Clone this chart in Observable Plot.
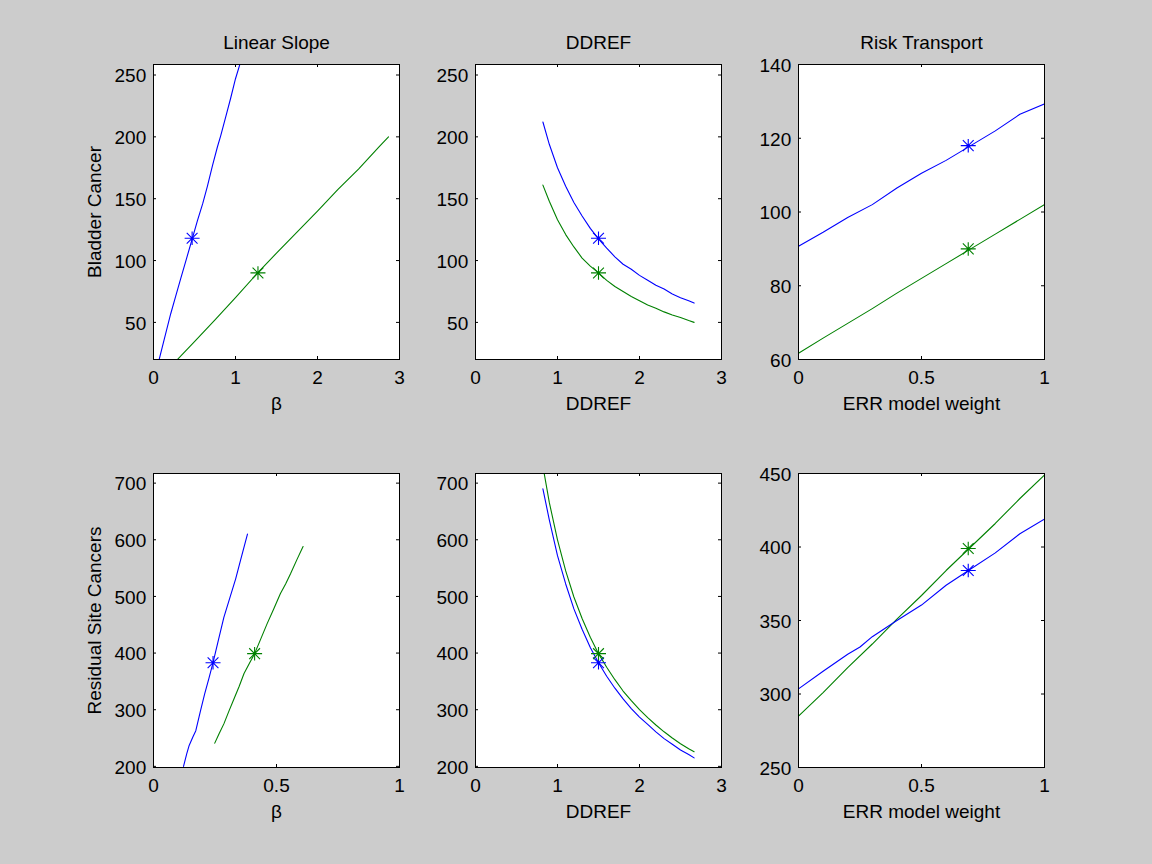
<!DOCTYPE html>
<html>
<head>
<meta charset="utf-8">
<script src="https://cdn.jsdelivr.net/npm/d3@7"></script>
<script src="https://cdn.jsdelivr.net/npm/@observablehq/plot@0.6"></script>
<style>
  html, body { margin: 0; padding: 0; background: #cccccc; }
  #fig { position: relative; width: 1152px; height: 864px; background: #cccccc; overflow: hidden; }
  #fig > div { position: absolute; }
</style>
</head>
<body>
<div id="fig"></div>
<script>
// ---- Sensitivity curves: projected cases vs. one uncertain parameter ----
// Each curve is a list of [parameter value, projected cases].

// Bladder cancer
const bladderSlopeBlue = [[0.069,20],[0.13,36],[0.21,57],[0.27,71],[0.33,85],[0.40,101],[0.47,117],[0.535,132],[0.60,146],[0.657,160],[0.72,177],[0.78,192],[0.82,201],[0.88,216],[0.94,231],[1.00,247],[1.055,259]];
const bladderSlopeGreen = [[0.292,20],[0.5,34.5],[0.75,52],[1.0,70],[1.27,90],[1.5,106],[1.75,123],[2.0,140],[2.25,157.5],[2.5,174],[2.75,192],[2.866,200]];
const bladderDdrefBlue = [[0.822,212],[0.9,194],[1.0,175],[1.1,160],[1.2,147],[1.3,136],[1.4,126],[1.5,117.5],[1.6,110],[1.7,103],[1.8,97],[1.9,93],[2.0,88],[2.1,84],[2.2,80],[2.3,77],[2.4,73],[2.5,70],[2.6,67.5],[2.666,65.6]];
const bladderDdrefGreen = [[0.822,161],[0.9,148],[1.0,133],[1.1,121],[1.2,111],[1.3,102],[1.4,95.5],[1.5,90],[1.6,84],[1.7,79],[1.8,75],[1.9,71],[2.0,67.5],[2.1,64],[2.2,61.5],[2.3,58.5],[2.4,56],[2.5,54],[2.6,51.5],[2.666,50]];
const bladderRiskBlue = [[0,90.7],[0.1,94.5],[0.2,98.5],[0.3,102],[0.4,106.5],[0.5,110.5],[0.6,114],[0.7,118],[0.8,122],[0.9,126.5],[1.0,129.3]];
const bladderRiskGreen = [[0,61.7],[0.1,65.8],[0.2,69.8],[0.3,73.8],[0.4,78],[0.5,82],[0.6,86],[0.7,90],[0.8,94],[0.9,98],[1.0,102]];
// central estimates [parameter, cases] for blue / green
const bladderSlopeCentral = [[0.471,118],[1.274,90]];
const bladderDdrefCentral = [[1.5,118],[1.5,90]];
const bladderRiskCentral = [[0.69,118],[0.69,90]];

// Residual site cancers
const residualSlopeBlue = [[0.122,200],[0.135,222],[0.145,237],[0.16,252],[0.172,263],[0.19,296],[0.208,328],[0.225,355],[0.242,383],[0.265,425],[0.286,463],[0.31,497],[0.334,531],[0.355,566],[0.382,610]];
const residualSlopeGreen = [[0.249,241],[0.267,258],[0.286,275],[0.307,298],[0.327,319],[0.348,341],[0.368,364],[0.39,382],[0.411,399],[0.437,426],[0.462,452],[0.49,479],[0.516,505],[0.537,522],[0.557,540],[0.583,565],[0.608,588]];
const residualDdrefBlue = [[0.822,690],[0.9,635],[1.0,572],[1.1,522],[1.2,478],[1.3,442],[1.4,410],[1.5,383],[1.6,359],[1.7,338],[1.8,319],[1.9,302],[2.0,287],[2.1,274],[2.2,261],[2.3,249],[2.4,239],[2.5,229],[2.6,221],[2.666,215]];
const residualDdrefGreen = [[0.822,730],[0.9,666],[1.0,600],[1.1,545],[1.2,499],[1.3,461],[1.4,428],[1.5,399],[1.6,375],[1.7,353],[1.8,333],[1.9,316],[2.0,300],[2.1,286],[2.2,273],[2.3,261],[2.4,250],[2.5,240],[2.6,231],[2.666,226]];
const residualRiskBlue = [[0,303.5],[0.1,315.5],[0.2,327],[0.25,332],[0.3,339],[0.4,350],[0.5,360.5],[0.6,374],[0.7,385],[0.8,396],[0.9,409],[1.0,419]];
const residualRiskGreen = [[0,285],[0.1,301],[0.2,318],[0.3,334],[0.4,351],[0.5,367],[0.6,384],[0.7,400],[0.8,416],[0.9,433],[1.0,449]];
const residualSlopeCentral = [[0.242,383],[0.411,399]];
const residualDdrefCentral = [[1.5,383],[1.5,399]];
const residualRiskCentral = [[0.69,384],[0.69,399]];

// Axis texts and ticks
const columnTitles = ["Linear Slope", "DDREF", "Risk Transport"];
const rowLabels = ["Bladder Cancer", "Residual Site Cancers"];
const columnXLabels = ["\u03b2", "DDREF", "ERR model weight"];
const ticksThree = [0, 1, 2, 3];
const ticksUnit = [0, 0.5, 1];
const bladderCaseTicks = [50, 100, 150, 200, 250];
const bladderRiskTicks = [60, 80, 100, 120, 140];
const residualCaseTicks = [200, 300, 400, 500, 600, 700];
const residualRiskTicks = [250, 300, 350, 400, 450];

// ---- layout ----
const colLeft = [153, 475, 798];
const rowTop = [64, 473];
const boxW = 246;
const boxH = [295, 294];
const mL = 80, mT = 45, mR = 15, mB = 62;
const BLUE = "#0000ff", GREEN = "#008000";
const FONT = 19;

// MATLAB-style '*' marker: a plus combined with a cross
const asterisk = {
  draw(context, size) {
    const r = Math.sqrt(size / Math.PI);
    const d = r * 0.72;
    context.moveTo(-r, 0); context.lineTo(r, 0);
    context.moveTo(0, -r * 0.9); context.lineTo(0, r * 0.9);
    context.moveTo(-d, -d); context.lineTo(d, d);
    context.moveTo(-d, d); context.lineTo(d, -d);
  }
};

const panels = [
  {row: 0, col: 0, xDomain: [0, 3], xTicks: ticksThree, yDomain: [20, 258.5], yTicks: bladderCaseTicks, blue: bladderSlopeBlue, green: bladderSlopeGreen, central: bladderSlopeCentral},
  {row: 0, col: 1, xDomain: [0, 3], xTicks: ticksThree, yDomain: [20, 258.5], yTicks: bladderCaseTicks, blue: bladderDdrefBlue, green: bladderDdrefGreen, central: bladderDdrefCentral},
  {row: 0, col: 2, xDomain: [0, 1], xTicks: ticksUnit, yDomain: [60, 140], yTicks: bladderRiskTicks, blue: bladderRiskBlue, green: bladderRiskGreen, central: bladderRiskCentral},
  {row: 1, col: 0, xDomain: [0, 1], xTicks: ticksUnit, yDomain: [198, 717], yTicks: residualCaseTicks, blue: residualSlopeBlue, green: residualSlopeGreen, central: residualSlopeCentral},
  {row: 1, col: 1, xDomain: [0, 3], xTicks: ticksThree, yDomain: [198, 717], yTicks: residualCaseTicks, blue: residualDdrefBlue, green: residualDdrefGreen, central: residualDdrefCentral},
  {row: 1, col: 2, xDomain: [0, 1], xTicks: ticksUnit, yDomain: [250, 450], yTicks: residualRiskTicks, blue: residualRiskBlue, green: residualRiskGreen, central: residualRiskCentral}
];

const fig = document.getElementById("fig");
const tickLen = 3;

for (const p of panels) {
  const W = boxW, H = boxH[p.row];
  const centralPts = [
    {x: p.central[0][0], y: p.central[0][1], c: BLUE},
    {x: p.central[1][0], y: p.central[1][1], c: GREEN}
  ];
  const marks = [
    Plot.frame({fill: "white", stroke: "none"}),
    Plot.line(p.green, {x: d => d[0], y: d => d[1], stroke: GREEN, strokeWidth: 1.1, clip: true}),
    Plot.line(p.blue, {x: d => d[0], y: d => d[1], stroke: BLUE, strokeWidth: 1.1, clip: true}),
    Plot.dot(centralPts, {x: "x", y: "y", stroke: "c", fill: "none", symbol: asterisk, r: 7.5, strokeWidth: 1.1}),
    // inward ticks on all four sides
    Plot.ruleX(p.xTicks, {x: d => d, insetTop: H - tickLen, stroke: "black"}),
    Plot.ruleX(p.xTicks, {x: d => d, insetBottom: H - tickLen, stroke: "black"}),
    Plot.ruleY(p.yTicks, {y: d => d, insetRight: W - tickLen, stroke: "black"}),
    Plot.ruleY(p.yTicks, {y: d => d, insetLeft: W - tickLen, stroke: "black"}),
    // tick labels
    Plot.text(p.xTicks, {x: d => d, text: d => String(d), frameAnchor: "bottom", lineAnchor: "bottom", dy: 24.3, fill: "black"}),
    Plot.text(p.yTicks, {y: d => d, text: d => String(d), frameAnchor: "left", textAnchor: "end", lineAnchor: "middle", dx: -7.3, dy: 1.2, fill: "black"}),
    // x label
    Plot.text([columnXLabels[p.col]], {text: d => d, frameAnchor: "bottom", lineAnchor: "bottom", dy: 50.3, fill: "black"}),
    Plot.frame({stroke: "black", strokeWidth: 1})
  ];
  if (p.row === 0) {
    marks.push(Plot.text([columnTitles[p.col]], {text: d => d, frameAnchor: "top", lineAnchor: "bottom", dy: -15.7, fill: "black"}));
  }
  if (p.col === 0) {
    marks.push(Plot.text([rowLabels[p.row]], {text: d => d, frameAnchor: "left", textAnchor: "middle", rotate: -90, lineAnchor: "bottom", dx: -52.5, fill: "black"}));
  }
  const chart = Plot.plot({
    width: mL + W + mR,
    height: mT + H + mB,
    marginLeft: mL, marginRight: mR, marginTop: mT, marginBottom: mB,
    x: {domain: p.xDomain, axis: null},
    y: {domain: p.yDomain, axis: null},
    style: {background: "transparent", fontFamily: "'Liberation Sans', Arial, Helvetica, sans-serif", fontSize: FONT + "px", overflow: "visible", color: "black"},
    marks
  });
  const holder = document.createElement("div");
  holder.style.left = (colLeft[p.col] - mL) + "px";
  holder.style.top = (rowTop[p.row] - mT) + "px";
  holder.appendChild(chart);
  fig.appendChild(holder);
}
</script>
</body>
</html>
